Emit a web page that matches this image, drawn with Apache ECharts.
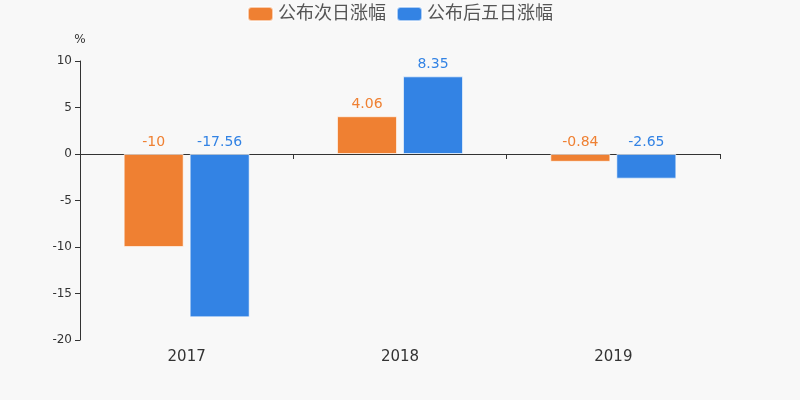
<!DOCTYPE html>
<html><head><meta charset="utf-8">
<script src="https://cdn.jsdelivr.net/npm/echarts@6/dist/echarts.min.js"></script>
<style>html,body{margin:0;padding:0;background:#f8f8f8}#c{width:800px;height:400px}</style>
</head><body><div id="c"></div>
<script>
const categories = ['2017', '2018', '2019'];
const nextDay = [-10, 4.06, -0.84];
const fiveDay = [-17.56, 8.35, -2.65];
const seriesNames = ['公布次日涨幅', '公布后五日涨幅'];

const chart = echarts.init(document.getElementById('c'));
const font = 'DejaVu Sans, Noto Sans CJK SC, sans-serif';
chart.setOption({
  backgroundColor: '#f8f8f8',
  textStyle: { fontFamily: font },
  legend: {
    top: 0, left: 'center', itemWidth: 25, itemHeight: 14, itemGap: 10,
    icon: 'roundRect',
    textStyle: { fontSize: 18, color: '#555', fontFamily: font }
  },
  grid: { left: 80, right: 80, top: 61, bottom: 60 },
  xAxis: [{
    type: 'category', data: categories,
    axisLine: { onZero: true, lineStyle: { color: '#333' } },
    axisTick: { show: true, lineStyle: { color: '#333' } },
    axisLabel: { show: false }
  }, {
    type: 'category', data: categories, position: 'bottom',
    axisLine: { show: false, onZero: false }, axisTick: { show: false },
    axisLabel: { fontSize: 15, color: '#333', margin: 10 }
  }],
  yAxis: {
    type: 'value', min: -20, max: 10, interval: 5,
    name: '%', nameTextStyle: { color: '#333', fontSize: 12 },
    nameGap: 15,
    axisLine: { show: true, lineStyle: { color: '#333' } },
    axisTick: { show: true },
    axisLabel: { color: '#333', fontSize: 12 },
    splitLine: { show: false }
  },
  series: [{
    name: seriesNames[0], type: 'bar', data: nextDay, barWidth: 60, barGap: '10%',
    itemStyle: { color: '#ef8032', borderColor: 'rgba(255,255,255,0.6)', borderWidth: 1 },
    label: { show: true, position: 'top', color: '#ef8032', fontSize: 14, distance: 5 }
  }, {
    name: seriesNames[1], type: 'bar', data: fiveDay, barWidth: 60,
    itemStyle: { color: '#3383e4', borderColor: 'rgba(255,255,255,0.6)', borderWidth: 1 },
    label: { show: true, position: 'top', color: '#3383e4', fontSize: 14, distance: 5 }
  }]
});
</script></body></html>
